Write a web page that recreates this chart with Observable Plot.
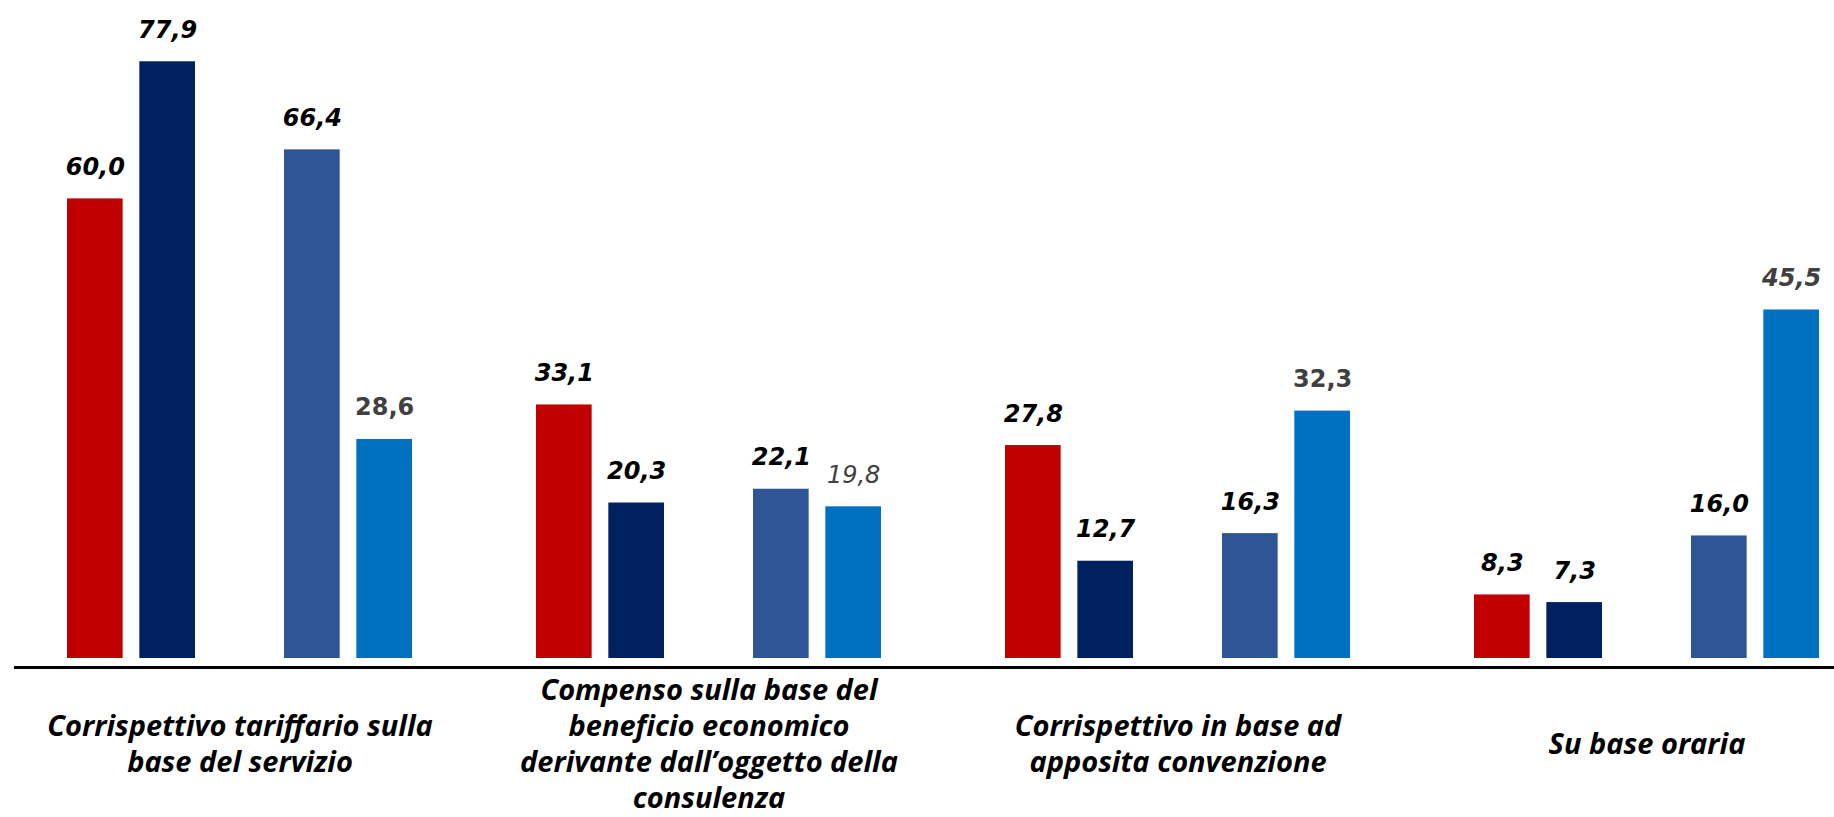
<!DOCTYPE html>
<html>
<head>
<meta charset="utf-8">
<script src="https://cdn.jsdelivr.net/npm/d3@7"></script>
<script src="https://cdn.jsdelivr.net/npm/@observablehq/plot@0.6"></script>
<style>
  html, body { margin: 0; padding: 0; background: #fff; }
  #chart svg { display: block; }
</style>
</head>
<body>
<div id="chart"></div>
<script>
// ---- data ----
const groups = ["g1", "g2", "g3", "g4"];
const groupLabels = [
  "Corrispettivo tariffario sulla\nbase del servizio",
  "Compenso sulla base del\nbeneficio economico\nderivante dall\u2019oggetto della\nconsulenza",
  "Corrispettivo in base ad\napposita convenzione",
  "Su base oraria"
];
const seriesNames = ["Serie 1", "Serie 2", "Serie 3", "Serie 4"];
const series1 = [60.0, 33.1, 27.8, 8.3];
const series2 = [77.9, 20.3, 12.7, 7.3];
const series3 = [66.4, 22.1, 16.3, 16.0];
const series4 = [28.6, 19.8, 32.3, 45.5];
const seriesValues = [series1, series2, series3, series4];

// ---- layout / style ----
const colors = ["#C00000", "#002060", "#2F5597", "#0070C0"];
const xRange = [67, 1820];
const padInner = 0.264;
const bw = d3.scaleBand(groups, xRange).paddingInner(padInner).paddingOuter(0).bandwidth();
const barW = 56;
const slotStep = (bw - barW) / 4;
const slots = [0, 1, 3, 4];
const fmt = v => v.toFixed(1).replace(".", ",");
// label styles for the 4th series (as in the original)
const s4Bold = [true, false, true, true];
const s4Italic = [false, true, false, true];

const marks = [];
seriesValues.forEach((vals, i) => {
  const rows = groups.map((g, j) => ({group: g, value: vals[j], idx: j, series: seriesNames[i]}));
  const off = slots[i] * slotStep;
  marks.push(Plot.barY(rows, {
    x: "group", y: "value",
    fill: colors[i],
    insetLeft: off,
    insetRight: bw - off - barW
  }));
  const dx = off + barW / 2 - bw / 2;
  if (i < 3) {
    marks.push(Plot.text(rows, {
      x: "group", y: "value", text: d => fmt(d.value),
      dx, dy: -24, lineAnchor: "bottom",
      fill: "#000", fontSize: 24, fontWeight: "bold", fontStyle: "italic"
    }));
  } else {
    rows.forEach(r => {
      marks.push(Plot.text([r], {
        x: "group", y: "value", text: d => fmt(d.value),
        dx, dy: -24, lineAnchor: "bottom",
        fill: "#404040", fontSize: 24,
        fontWeight: s4Bold[r.idx] ? "bold" : "normal",
        fontStyle: s4Italic[r.idx] ? "italic" : "normal"
      }));
    });
  }
});

marks.push(Plot.ruleY([0], {dy: 9, stroke: "#000", strokeWidth: 3}));
marks.push(Plot.text(groups, {
  x: d => d, text: (d, i) => groupLabels[i],
  frameAnchor: "bottom", dy: -75, lineAnchor: "middle",
  fontSize: 29, lineHeight: 1.25, fontWeight: "bold", fontStyle: "italic",
  fontFamily: "'Open Sans', sans-serif", fill: "#000"
}));

const chart = Plot.plot({
  width: 1834,
  height: 817,
  marginLeft: 14,
  marginRight: 0,
  marginTop: 0,
  marginBottom: 0,
  style: {fontFamily: "'DejaVu Sans', sans-serif", background: "#fff"},
  x: {type: "band", domain: groups, range: xRange, paddingInner: padInner, paddingOuter: 0, axis: null},
  y: {domain: [0, 80], range: [658, 658 - 80 * 7.66], axis: null},
  marks
});
document.getElementById("chart").appendChild(chart);
</script>
</body>
</html>
